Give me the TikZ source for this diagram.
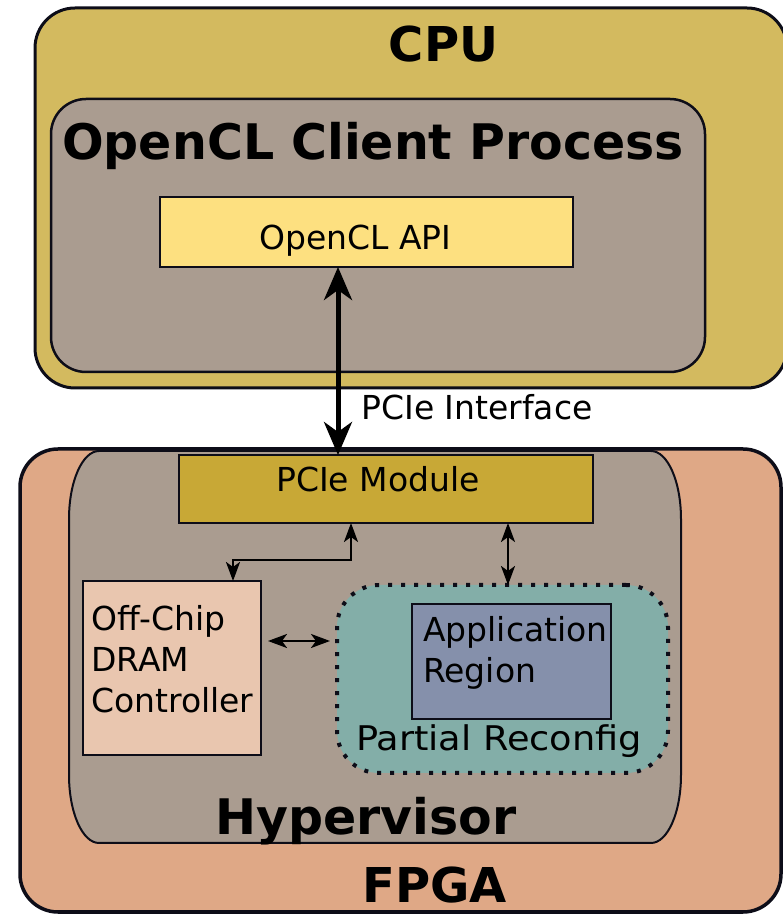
\documentclass[tikz,border=0pt]{standalone}
\usepackage{fontspec}
\setmainfont{DejaVu Sans}
\usetikzlibrary{arrows.meta,calc}

\definecolor{edge}{HTML}{0D0D18}
\definecolor{cpufill}{HTML}{D3BA5F}
\definecolor{procfill}{HTML}{AA9C90}
\definecolor{apifill}{HTML}{FDE080}
\definecolor{fpgafill}{HTML}{DFA886}
\definecolor{pciefill}{HTML}{C8A836}
\definecolor{dramfill}{HTML}{E9C6AF}
\definecolor{prfill}{HTML}{83AEA8}
\definecolor{appfill}{HTML}{8590AB}

\tikzset{
  box/.style={draw=edge, rectangle, inner sep=0pt, outer sep=0pt, anchor=south west},
  regtext/.style={inner sep=0pt, font=\fontsize{33}{41}\selectfont},
  titletext/.style={inner sep=0pt, font=\fontsize{48}{56}\selectfont\bfseries},
  bigarrow/.style={line width=5pt, draw=black,
    {Stealth[length=33pt,width=28pt,inset=10pt]}-{Stealth[length=33pt,width=28pt,inset=10pt]}},
  smallarrow/.style={line width=2.5pt, draw=black,
    {Stealth[length=19pt,width=14pt,inset=5pt]}-{Stealth[length=19pt,width=14pt,inset=5pt]}}
}

\begin{document}
\begin{tikzpicture}[x=1pt,y=1pt]
  \clip (0,0) rectangle (783,914);

  % host side
  \node[box, fill=cpufill, line width=3pt, rounded corners=40pt,
        minimum width=752pt, minimum height=380pt] (cpu) at (35,526) {};
  \node[box, fill=procfill, line width=2.5pt, rounded corners=35pt,
        minimum width=654pt, minimum height=273pt] (proc) at (51,542) {};
  \node[box, fill=apifill, line width=2pt,
        minimum width=413pt, minimum height=70pt] (api) at (160,647) {};

  \node[titletext, anchor=base] (cpulabel) at (443.5,852) {CPU};
  \node[titletext, anchor=base, font=\fontsize{49}{56}\selectfont\bfseries] (proclabel) at (373,754) {OpenCL Client Process};
  \node[regtext, anchor=base] (apilabel) at (355.5,664) {OpenCL API};

  % device side
  \node[box, fill=fpgafill, line width=3.5pt, rounded corners=38pt,
        minimum width=761pt, minimum height=463pt] (fpga) at (20,2) {};
  \draw[draw=edge, fill=procfill, line width=2pt]
    (99,463) -- (651,463)
    arc[start angle=90, end angle=0, x radius=30, y radius=68] -- (681,139)
    arc[start angle=0, end angle=-90, x radius=30, y radius=68] -- (99,71)
    arc[start angle=270, end angle=180, x radius=30, y radius=68] -- (69,395)
    arc[start angle=180, end angle=90, x radius=30, y radius=68] -- cycle;

  \node[box, fill=pciefill, line width=2pt,
        minimum width=414pt, minimum height=68pt] (pcie) at (179,391) {};
  \node[box, fill=dramfill, line width=2.5pt,
        minimum width=178pt, minimum height=174pt] (dram) at (83,159) {};
  \node[box, fill=prfill, line width=4pt, dash pattern=on 4pt off 9pt,
        rounded corners=42pt, minimum width=331pt, minimum height=188pt] (pr) at (337,141) {};
  \node[box, fill=appfill, line width=2pt,
        minimum width=199pt, minimum height=115pt] (app) at (412,195) {};

  \node[regtext, anchor=base] (pcielabel) at (378,422) {PCIe Module};
  % multi-line labels: base anchor sits on the last line
  \node[regtext, anchor=base west, align=left] (dramlabel) at (91,201) {Off-Chip\\DRAM\\Controller};
  \node[regtext, anchor=base west, align=left] (applabel) at (423,231) {Application\\Region};
  \node[regtext, anchor=base, font=\fontsize{34}{41}\selectfont] (prlabel) at (499,163) {\scalebox{1.08}[1]{Partial Reconfig}};
  \node[titletext, anchor=base, font=\fontsize{49}{56}\selectfont\bfseries] (hyplabel) at (366,79) {Hypervisor};
  \node[titletext, anchor=base] (fpgalabel) at (434.5,12) {FPGA};

  % PCIe link between host and device
  \coordinate (linktop) at ([xshift=-28.5]api.south);
  \draw[bigarrow] (linktop) -- (linktop |- pcie.north);
  \node[regtext, anchor=base] (linklabel) at (477,494) {PCIe Interface};

  % on-chip connections
  \draw[smallarrow] ([xshift=-35]pcie.south) -- ++(0,-37) -| ([xshift=61]dram.north);
  \coordinate (prtop) at ([xshift=122]pcie.south);
  \draw[smallarrow] (prtop) -- (prtop |- pr.north);
  \coordinate (dramport) at ([shift={(7,27)}]dram.east);
  \draw[smallarrow] (dramport) -- ($(pr.west |- dramport)+(-7,0)$);
\end{tikzpicture}
\end{document}
